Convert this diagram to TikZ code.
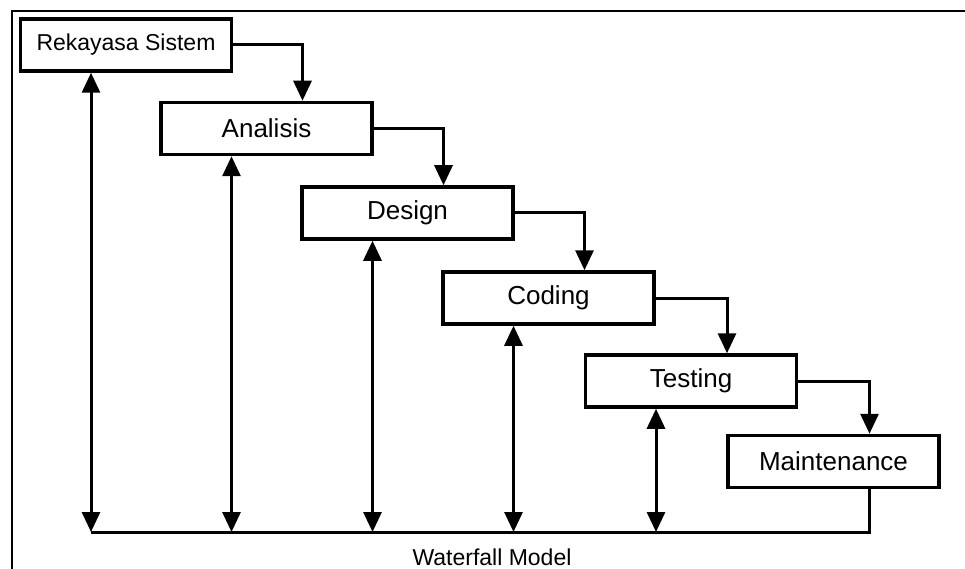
\documentclass[tikz,border=0pt]{standalone}
\usepackage{fontspec}
\setmainfont{Liberation Sans}
\usetikzlibrary{arrows.meta}
\begin{document}
\begin{tikzpicture}[x=1pt,y=-1pt,
  stage/.style={draw, line width=3.5pt, minimum width=211pt, minimum height=52pt, inner sep=0pt, font=\fontsize{26}{30}\selectfont},
  flow/.style={line width=3pt, -{Triangle[width=18pt,length=20pt]}},
  both/.style={line width=3pt, {Triangle[width=18pt,length=20pt]}-{Triangle[width=18pt,length=20pt]}},
  frame/.style={line width=2pt},
]
\useasboundingbox (0,0) rectangle (965,569);
\draw[frame] (12,569) -- (12,11) -- (965,11);

\node[stage, font=\fontsize{23}{27}\selectfont] (r) at (126,45) {Rekayasa Sistem};
\node[stage] (a) at (266.5,128.5) {Analisis};
\node[stage] (d) at (407.5,213) {Design};
\node[stage] (c) at (548.5,298) {Coding};
\node[stage] (t) at (691,381) {Testing};
\node[stage] (m) at (833.5,461.5) {Maintenance};

\coordinate (bl) at (91,532);

\draw[flow] (r.east) -| ([xshift=36pt]a.north);
\draw[flow] (a.east) -| ([xshift=36pt]d.north);
\draw[flow] (d.east) -| ([xshift=36pt]c.north);
\draw[flow] (c.east) -| ([xshift=36pt]t.north);
\draw[flow] (t.east) -| ([xshift=36pt]m.north);

\draw[line width=3pt] ([xshift=36pt]m.south) |- (bl);

\foreach \n in {r,a,d,c,t}{
  \draw[both] ([xshift=-35pt]\n.south) -- ([xshift=-35pt]\n.south |- bl);
}

\node[font=\fontsize{23}{27}\selectfont, inner sep=1pt] (cap) at (492,557) {Waterfall Model};
\end{tikzpicture}
\end{document}
